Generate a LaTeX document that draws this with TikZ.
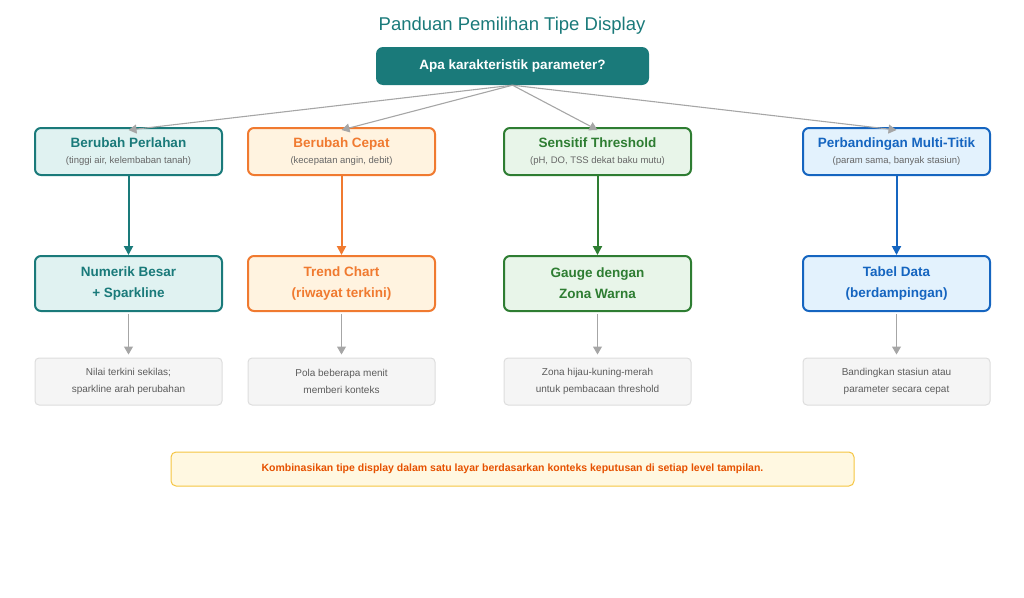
\documentclass[tikz,border=0pt]{standalone}
\usepackage{fontspec}
\setmainfont{Liberation Sans}
\usetikzlibrary{arrows.meta}
\definecolor{tealT}{HTML}{1A7A7A}
\definecolor{tealF}{HTML}{E0F2F1}
\definecolor{oranT}{HTML}{F07A30}
\definecolor{oranF}{HTML}{FFF3E0}
\definecolor{grenT}{HTML}{2E7D32}
\definecolor{grenF}{HTML}{E8F5E9}
\definecolor{bluT}{HTML}{1565C0}
\definecolor{bluF}{HTML}{E3F2FD}
\definecolor{subT}{HTML}{666666}
\definecolor{noteF}{HTML}{F5F5F5}
\definecolor{noteD}{HTML}{DDDDDD}
\definecolor{pesanF}{HTML}{FFF8E1}
\definecolor{pesanD}{HTML}{F5C542}
\definecolor{pesanT}{HTML}{E65100}
\tikzset{
  kat/.style={draw=#1T, fill=#1F, line width=2pt, rounded corners=6pt,
    minimum width=187pt, minimum height=47pt, align=center, text=#1T},
  tampil/.style={draw=#1T, fill=#1F, line width=2pt, rounded corners=6pt,
    minimum width=187pt, minimum height=55pt, align=center, text=#1T,
    font=\fontsize{13.5}{21}\selectfont\bfseries},
  ket/.style={draw=noteD, fill=noteF, line width=1pt, rounded corners=4pt,
    minimum width=187pt, minimum height=47pt, align=center, text=subT!90!black,
    font=\fontsize{10}{17}\selectfont},
  panah/.style={-{Triangle[width=9pt,length=9pt]}, line width=2pt},
  abu/.style={-{Triangle[width=9pt,length=8pt]}, line width=1.1pt, draw=black!35},
}
\newcommand{\judul}[2]{{\fontsize{13.5}{16}\selectfont\bfseries #1}\\[4pt]{\fontsize{9.5}{12}\selectfont\color{subT}#2}}
\begin{document}
\begin{tikzpicture}[x=1pt,y=-1pt]
\useasboundingbox (0,0) rectangle (1024,597);
\node[text=tealT, font=\fontsize{18.5}{22}\selectfont] (judul) at (512,26) {Panduan Pemilihan Tipe Display};
\node[fill=tealT, rounded corners=7pt, minimum width=273pt, minimum height=38pt,
  text=white, font=\fontsize{13.5}{16}\selectfont\bfseries] (akar) at (512.5,66) {Apa karakteristik parameter?};
%
\node[kat=teal] (pelan) at (128.5,151.5) {\judul{Berubah Perlahan}{(tinggi air, kelembaban tanah)}};
\node[kat=oran] (cepat) at (341.5,151.5) {\judul{Berubah Cepat}{(kecepatan angin, debit)}};
\node[kat=gren] (ambang) at (597.5,151.5) {\judul{Sensitif Threshold}{(pH, DO, TSS dekat baku mutu)}};
\node[kat=blu] (banding) at (896.5,151.5) {\judul{Perbandingan Multi-Titik}{(param sama, banyak stasiun)}};
%
\node[tampil=teal] (numerik) at (128.5,283.5) {Numerik Besar\\+ Sparkline};
\node[tampil=oran] (tren) at (341.5,283.5) {Trend Chart\\(riwayat terkini)};
\node[tampil=gren] (gauge) at (597.5,283.5) {Gauge dengan\\Zona Warna};
\node[tampil=blu] (tabel) at (896.5,283.5) {Tabel Data\\(berdampingan)};
%
\node[ket] (k1) at (128.5,381.5) {Nilai terkini sekilas;\\sparkline arah perubahan};
\node[ket] (k2) at (341.5,381.5) {Pola beberapa menit\\memberi konteks};
\node[ket] (k3) at (597.5,381.5) {Zona hijau-kuning-merah\\untuk pembacaan threshold};
\node[ket] (k4) at (896.5,381.5) {Bandingkan stasiun atau\\parameter secara cepat};
%
\node[draw=pesanD, fill=pesanF, line width=1pt, rounded corners=5pt,
  minimum width=683pt, minimum height=34pt, text=pesanT,
  font=\fontsize{10.5}{12}\selectfont\bfseries] (catatan) at (512.5,469) {Kombinasikan tipe display dalam satu layar berdasarkan konteks keputusan di setiap level tampilan.};
%
\foreach \n in {pelan,cepat,ambang,banding}
  \draw[abu] (akar.south) -- ([yshift=-3pt]\n.north);
\draw[panah, tealT] (pelan) -- (numerik);
\draw[panah, oranT] (cepat) -- (tren);
\draw[panah, grenT] (ambang) -- (gauge);
\draw[panah, bluT] (banding) -- (tabel);
\foreach \a/\b in {numerik/k1,tren/k2,gauge/k3,tabel/k4}
  \draw[abu] ([yshift=-2pt]\a.south) -- ([yshift=3pt]\b.north);
\end{tikzpicture}
\end{document}
